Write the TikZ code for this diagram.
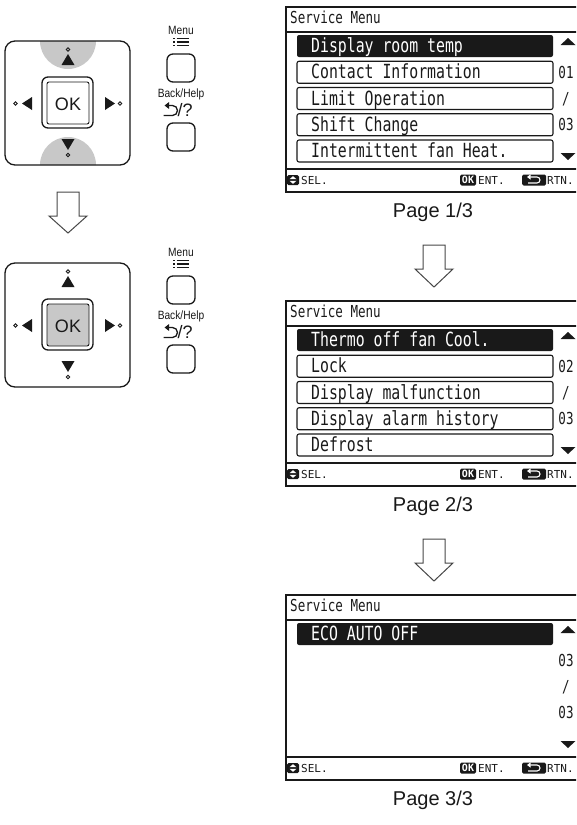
\documentclass[tikz,border=0pt]{standalone}
\usepackage{fontspec}
\setmainfont{Liberation Sans}
\newfontfamily\lcd[FakeStretch=0.76]{DejaVu Sans Mono}
\newfontfamily\lcdw{DejaVu Sans Mono}
\newfontfamily\narrowsans[FakeStretch=0.85]{Liberation Sans}
\usetikzlibrary{arrows.meta}
\definecolor{btngray}{RGB}{200,200,200}
\definecolor{ink}{RGB}{25,25,25}
\newcommand{\scrrow}[3]{%
  \pgfmathsetmacro\rc{39+26.25*#1}%
  \draw[rowbox] (297,\rc-11) rectangle (553,\rc+11);%
  \node[rowtxt] (#3) at (311,\rc+6.5) {#2};}
\newcommand{\scrsel}[3]{%
  \pgfmathsetmacro\rc{39+26.25*#1}%
  \fill[ink,rounded corners=2pt] (297,\rc-11) rectangle (553,\rc+11);%
  \node[rowtxt,text=white] (#3) at (311,\rc+6.5) {#2};}
\newcommand{\scrframe}[4]{%
  \draw[scrline] (286,0) rectangle (620,185);
  \node[hdr] (hd#1) at (290,16) {Service Menu};
  \draw[scrline] (286,25) -- (620,25);
  \draw[scrline] (286,162) -- (620,162);
  \fill[ink,rounded corners=1.5pt] (287,168) rectangle (299,178);
  \fill[white] (289.5,172.2)--(296.5,172.2)--(293,169.2)--cycle;
  \fill[white] (289.5,173.8)--(296.5,173.8)--(293,176.8)--cycle;
  \node[bar] (sel#1) at (301,177) {SEL.};
  \fill[ink,rounded corners=1.5pt] (460,167.5) rectangle (476,178.5);
  \node[okic] (oki#1) at (468,173) {OK};
  \node[bar] (ent#1) at (478,177) {ENT.};
  \fill[ink,rounded corners=1.5pt] (522,167.5) rectangle (546,178.5);
  \draw[white,line width=1.1pt,-{Triangle[length=3.5pt,width=5pt]}] (528,176) -- (537,176) arc[start angle=90,end angle=-90,radius=3] -- (527,170);
  \node[bar] (rtn#1) at (547,177) {RTN.};
  \fill[ink] (560.5,38)--(575.5,38)--(568,31)--cycle;
  \fill[ink] (560.5,146)--(575.5,146)--(568,153)--cycle;
  \node[pgnum] (pa#1) at (566,71.25) {#2};
  \node[pgnum] (pb#1) at (566,97.5) {/};
  \node[pgnum] (pc#1) at (566,123.75) {03};
  \node[pagelbl] (pg#1) at (433,205) {Page #3};
  #4}
\newcommand{\blockarrow}{%
  \draw[arrowline] (423,238)--(445,238)--(445,262)--(453,262)--(434,280)--(415,262)--(423,262)--cycle;}
\newcommand{\ctrlpad}[2]{%
  \begin{scope}
    \clip[rounded corners=10pt] (5,41) rectangle (130,165);
    #2
  \end{scope}
  \draw[ctl,rounded corners=10pt] (5,41) rectangle (130,165);
  \draw[ctl,rounded corners=6pt] (42,77) rectangle (93,128);
  \draw[ctl,line width=0.9pt,rounded corners=2pt,fill=#1] (47,82) rectangle (89,124);
  \fill[ink] (61.5,65)--(74.5,65)--(68,54)--cycle;
  \fill[ink] (61.5,139)--(74.5,139)--(68,150)--cycle;
  \fill[ink] (32,97)--(32,110)--(22,103.5)--cycle;
  \fill[ink] (105,97)--(105,110)--(115,103.5)--cycle;
  \draw[ink,line width=0.8pt] (68,49.5) circle[radius=1.8];
  \draw[ink,line width=0.8pt] (68,155) circle[radius=1.8];
  \draw[ink,line width=0.8pt] (15.5,103.5) circle[radius=1.8];
  \draw[ink,line width=0.8pt] (120,103.5) circle[radius=1.8];
  \node[font=\fontsize{18}{18}\selectfont,text=ink] at (68,104) {OK};
  \node[font=\narrowsans\fontsize{12}{12}\selectfont,text=ink] at (181,30) {Menu};
  \foreach \yy in {38.5,42,45.5} {
    \draw[ink,line width=1.3pt] (176.5,\yy) -- (189,\yy);
    \fill[ink] (173.3,\yy-0.7) rectangle (174.7,\yy+0.7);}
  \draw[ctl,rounded corners=6pt] (167,54) rectangle (195,82);
  \node[font=\narrowsans\fontsize{12}{12}\selectfont,text=ink] at (181,94) {Back/Help};
  \draw[ink,line width=1.3pt,-{Triangle[length=4.5pt,width=6.5pt]}] (163.5,115.5) -- (172.5,115.5) arc[start angle=90,end angle=-90,radius=5] -- (164.5,105.5);
  \node[font=\fontsize{18}{18}\selectfont,text=ink,anchor=west,inner sep=0] at (177.5,110) {/?};
  \draw[ctl,rounded corners=6pt] (167,123) rectangle (195,151);}
\begin{document}
\begin{tikzpicture}[x=1pt,y=-1pt,
  scrline/.style={draw=ink,line width=1.4pt},
  rowbox/.style={draw=ink,line width=1.1pt,rounded corners=2pt},
  rowtxt/.style={anchor=base west,inner sep=0,text=ink,font=\lcd\fontsize{19.5}{20}\selectfont},
  hdr/.style={anchor=base west,inner sep=0,text=ink,font=\lcd\fontsize{16.5}{17}\selectfont},
  bar/.style={anchor=base west,inner sep=0,text=ink,font=\lcdw\fontsize{11}{11}\selectfont},
  okic/.style={inner sep=0,text=white,font=\lcdw\bfseries\fontsize{10}{10}\selectfont},
  pgnum/.style={anchor=base,inner sep=0,text=ink,font=\lcd\fontsize{16.5}{17}\selectfont},
  pagelbl/.style={text=ink,font=\fontsize{20}{20}\selectfont},
  arrowline/.style={draw=ink!80,line width=1pt,fill=white},
  ctl/.style={draw=ink,line width=1.3pt}]
\useasboundingbox (0,0) rectangle (576,825);
\clip (0,0) rectangle (576,825);
% left controllers
\ctrlpad{white}{\fill[btngray] (68,41) circle[radius=28]; \fill[btngray] (68,165) circle[radius=28];}
\draw[arrowline] (57,192)--(79,192)--(79,216)--(87,216)--(68,233)--(49,216)--(57,216)--cycle;
\begin{scope}[yshift=-222pt]
\ctrlpad{btngray}{}
\end{scope}
% screen 1
\begin{scope}[yshift=-7pt]
\scrframe{1}{01}{1/3}{\blockarrow}
\scrsel{0}{Display room temp}{r11}
\scrrow{1}{Contact Information}{r12}
\scrrow{2}{Limit Operation}{r13}
\scrrow{3}{Shift Change}{r14}
\scrrow{4}{Intermittent fan Heat.}{r15}
\end{scope}
% screen 2
\begin{scope}[yshift=-301pt]
\scrframe{2}{02}{2/3}{\blockarrow}
\scrsel{0}{Thermo off fan Cool.}{r21}
\scrrow{1}{Lock}{r22}
\scrrow{2}{Display malfunction}{r23}
\scrrow{3}{Display alarm history}{r24}
\scrrow{4}{Defrost}{r25}
\end{scope}
% screen 3
\begin{scope}[yshift=-595pt]
\scrframe{3}{03}{3/3}{}
\scrsel{0}{ECO AUTO OFF}{r31}
\end{scope}
\end{tikzpicture}
\end{document}
